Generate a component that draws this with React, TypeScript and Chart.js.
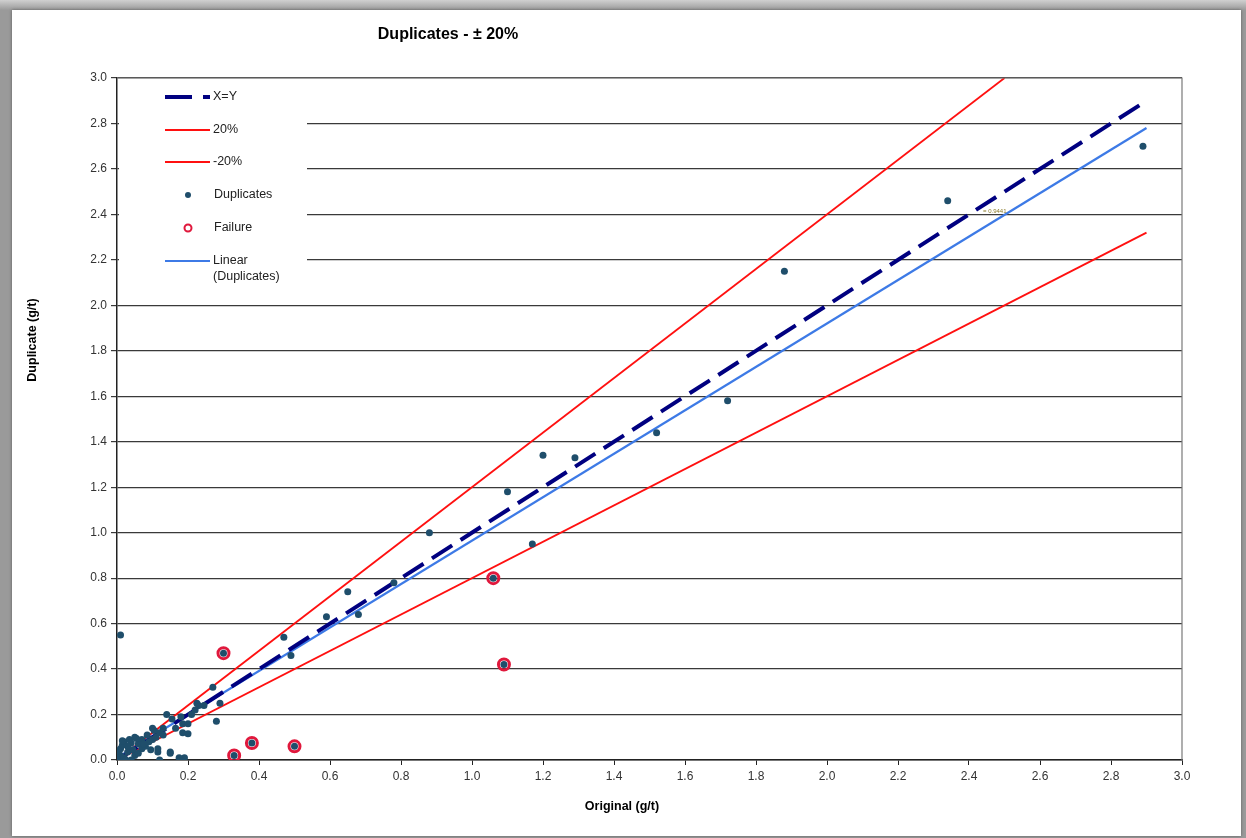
import React, { useEffect, useRef } from 'react';
import { Chart, registerables } from 'chart.js';

Chart.register(...registerables);

const FONT = '"Liberation Sans", Arial, sans-serif';

const chartTitle = 'Duplicates - ± 20%';
const xTitle = 'Original (g/t)';
const yTitle = 'Duplicate (g/t)';
const trendLabel = '= 0.9441';

const axisMin = 0;
const axisMax = 3;
const axisStep = 0.2;

// reference lines (x, y)
const xyX = [0, 2.9];
const xyY = [0, 2.9];
const plus20X = [0, 2.5];
const plus20Y = [0, 3.0];
const minus20X = [0, 2.9];
const minus20Y = [0, 2.32];
const trendX = [0, 2.9];
const trendY = [0.01, 2.78];

// duplicate pairs
const dupX = [
  2.89, 2.34, 1.88, 1.72, 1.52, 1.29, 1.2, 1.1, 1.17, 0.88, 0.78, 0.65, 0.68, 0.59, 0.47, 0.49, 0.01,
  0.3, 0.33, 0.38, 0.5, 1.06, 1.09,
  0.27, 0.29, 0.28, 0.23, 0.245, 0.2, 0.2, 0.19, 0.14, 0.155, 0.15, 0.12, 0.115, 0.1, 0.085, 0.07,
  0.02, 0.04, 0.06, 0.01, 0.03, 0.045, 0.095, 0.115, 0.1, 0.15, 0.185, 0.185, 0.175, 0.225,
  0.005, 0.01, 0.02, 0.03, 0.05, 0.06, 0.07, 0.08, 0.09, 0.11, 0.12, 0.13, 0.035, 0.05, 0.0, 0.015,
  0.025, 0.04, 0.13, 0.165, 0.21, 0.22, 0.18, 0.005, 0.015, 0.055, 0.075, 0.105,
];
const dupY = [
  2.7, 2.46, 2.15, 1.58, 1.44, 1.33, 1.34, 1.18, 0.95, 1.0, 0.78, 0.74, 0.64, 0.63, 0.54, 0.46, 0.55,
  0.47, 0.02, 0.075, 0.06, 0.8, 0.42,
  0.32, 0.25, 0.17, 0.24, 0.24, 0.16, 0.115, 0.01, 0.2, 0.18, 0.03, 0.0, 0.035, 0.14, 0.11, 0.09,
  0.08, 0.075, 0.07, 0.05, 0.035, 0.045, 0.045, 0.05, 0.09, 0.035, 0.12, 0.16, 0.01, 0.25,
  0.01, 0.02, 0.01, 0.06, 0.02, 0.03, 0.05, 0.06, 0.08, 0.1, 0.12, 0.11, 0.09, 0.1, 0.03, 0.065,
  0.0, 0.0, 0.14, 0.14, 0.2, 0.22, 0.19, 0.04, 0.085, 0.095, 0.07, 0.13,
];

// failures (outside ±20%)
const failX = [0.3, 0.33, 0.38, 0.5, 1.06, 1.09];
const failY = [0.47, 0.02, 0.075, 0.06, 0.8, 0.42];

const legendLabels = ['X=Y', '20%', '-20%', 'Duplicates', 'Failure', 'Linear', '(Duplicates)'];

const NAVY = '#000080';
const RED = '#ff1010';
const DOT = '#1f4e6b';
const FAIL = '#e0183c';
const BLUE = '#3d7ae6';

const pts = (xs: number[], ys: number[]) => xs.map((x, i) => ({ x, y: ys[i] }));

const overlay = {
  id: 'overlay',
  afterDraw(chart: any) {
    const { ctx, chartArea } = chart;
    const { left, top, right, bottom } = chartArea;
    ctx.save();
    // top / right frame of plot area
    ctx.strokeStyle = '#7a7a7a';
    ctx.lineWidth = 1.2;
    ctx.beginPath();
    ctx.moveTo(left, top);
    ctx.lineTo(right, top);
    ctx.lineTo(right, bottom);
    ctx.stroke();

    // legend box
    ctx.fillStyle = '#ffffff';
    ctx.fillRect(left + 2, top + 6, 188, 210);
    const lx0 = 165;
    const lx1 = 210;
    const tx = 213;
    ctx.font = `12.5px ${FONT}`;
    ctx.textBaseline = 'middle';
    ctx.fillStyle = '#222';
    // X=Y
    ctx.strokeStyle = NAVY;
    ctx.lineWidth = 4;
    ctx.setLineDash([27, 11, 6, 0]);
    ctx.beginPath();
    ctx.moveTo(lx0, 97);
    ctx.lineTo(lx1, 97);
    ctx.stroke();
    ctx.setLineDash([]);
    ctx.fillText(legendLabels[0], tx, 97);
    // 20%
    ctx.strokeStyle = RED;
    ctx.lineWidth = 1.8;
    ctx.beginPath();
    ctx.moveTo(lx0, 130);
    ctx.lineTo(lx1, 130);
    ctx.stroke();
    ctx.fillText(legendLabels[1], tx, 130);
    // -20%
    ctx.beginPath();
    ctx.moveTo(lx0, 162);
    ctx.lineTo(lx1, 162);
    ctx.stroke();
    ctx.fillText(legendLabels[2], tx, 162);
    // Duplicates
    ctx.fillStyle = DOT;
    ctx.beginPath();
    ctx.arc(188, 195, 3, 0, Math.PI * 2);
    ctx.fill();
    ctx.fillStyle = '#222';
    ctx.fillText(legendLabels[3], tx + 1, 195);
    // Failure
    ctx.strokeStyle = FAIL;
    ctx.lineWidth = 2;
    ctx.beginPath();
    ctx.arc(188, 228, 3.5, 0, Math.PI * 2);
    ctx.stroke();
    ctx.fillText(legendLabels[4], tx + 1, 228);
    // Linear
    ctx.strokeStyle = BLUE;
    ctx.lineWidth = 2.2;
    ctx.beginPath();
    ctx.moveTo(lx0, 261);
    ctx.lineTo(lx1, 261);
    ctx.stroke();
    ctx.fillText(legendLabels[5], tx, 261);
    ctx.fillText(legendLabels[6], tx, 277);

    // trend label
    ctx.font = `6px ${FONT}`;
    ctx.fillStyle = '#8a7a2a';
    ctx.fillText(trendLabel, 983, 211);

    // titles
    ctx.fillStyle = '#000';
    ctx.textAlign = 'center';
    ctx.font = `bold 16px ${FONT}`;
    ctx.fillText(chartTitle, 448, 35);
    ctx.font = `bold 12.5px ${FONT}`;
    ctx.fillText(xTitle, 622, 807);
    ctx.translate(33, 340);
    ctx.rotate(-Math.PI / 2);
    ctx.fillText(yTitle, 0, 0);
    ctx.restore();
  },
};

export default function App() {
  const ref = useRef<HTMLCanvasElement>(null);
  useEffect(() => {
    if (!ref.current) return;
    const tickFont = { family: FONT, size: 12 };
    const chart = new Chart(ref.current, {
      type: 'scatter',
      data: {
        datasets: [
          {
            label: 'Duplicates',
            data: pts(dupX, dupY),
            pointRadius: 3.5,
            pointBackgroundColor: DOT,
            pointBorderWidth: 0,
            showLine: false,
          },
          {
            label: 'Failure',
            data: pts(failX, failY),
            pointRadius: 5.5,
            pointBackgroundColor: 'rgba(0,0,0,0)',
            pointBorderColor: FAIL,
            pointBorderWidth: 3,
            showLine: false,
          },
          {
            label: 'X=Y',
            data: pts(xyX, xyY),
            showLine: true,
            borderColor: NAVY,
            borderWidth: 4,
            borderDash: [24, 10],
            pointRadius: 0,
          },
          {
            label: 'Linear (Duplicates)',
            data: pts(trendX, trendY),
            showLine: true,
            borderColor: BLUE,
            borderWidth: 2.3,
            pointRadius: 0,
          },
          {
            label: '20%',
            data: pts(plus20X, plus20Y),
            showLine: true,
            borderColor: RED,
            borderWidth: 1.8,
            pointRadius: 0,
          },
          {
            label: '-20%',
            data: pts(minus20X, minus20Y),
            showLine: true,
            borderColor: RED,
            borderWidth: 1.8,
            pointRadius: 0,
          },
        ],
      },
      options: {
        responsive: false,
        animation: false,
        layout: { padding: { left: 0, top: 78, right: 64, bottom: 0 } },
        plugins: { legend: { display: false }, tooltip: { enabled: false }, title: { display: false } },
        scales: {
          x: {
            type: 'linear',
            min: axisMin,
            max: axisMax,
            ticks: {
              stepSize: axisStep,
              font: tickFont,
              color: '#333',
              padding: 4,
              maxRotation: 0,
              callback: (v: any) => Number(v).toFixed(1),
            },
            grid: { drawOnChartArea: false, drawTicks: true, tickLength: 5, color: '#222', lineWidth: 1 },
            border: { color: '#222', width: 1.5 },
            afterFit: (s: any) => {
              s.height = 78;
            },
          },
          y: {
            type: 'linear',
            min: axisMin,
            max: axisMax,
            ticks: {
              stepSize: axisStep,
              font: tickFont,
              color: '#333',
              padding: 4,
              callback: (v: any) => Number(v).toFixed(1),
            },
            grid: { drawOnChartArea: true, drawTicks: true, tickLength: 6, color: '#3a3a3a', lineWidth: 1.2 },
            border: { color: '#222', width: 1.5 },
            afterFit: (s: any) => {
              s.width = 117;
            },
          },
        },
      },
      plugins: [overlay],
    } as any);
    return () => chart.destroy();
  }, []);

  return (
    <div
      style={{
        position: 'fixed',
        left: 0,
        top: 0,
        width: 1246,
        height: 838,
        background: 'linear-gradient(180deg, #d0d0d0 0px, #9a9a9a 10px)',
        overflow: 'hidden',
      }}
    >
      <div
        style={{
          position: 'absolute',
          left: 12,
          top: 10,
          width: 1229,
          height: 826,
          background: '#ffffff',
          boxShadow: '0 0 3px rgba(0,0,0,0.4)',
        }}
      />
      <canvas ref={ref} width={1246} height={838} style={{ position: 'absolute', left: 0, top: 0 }} />
    </div>
  );
}
